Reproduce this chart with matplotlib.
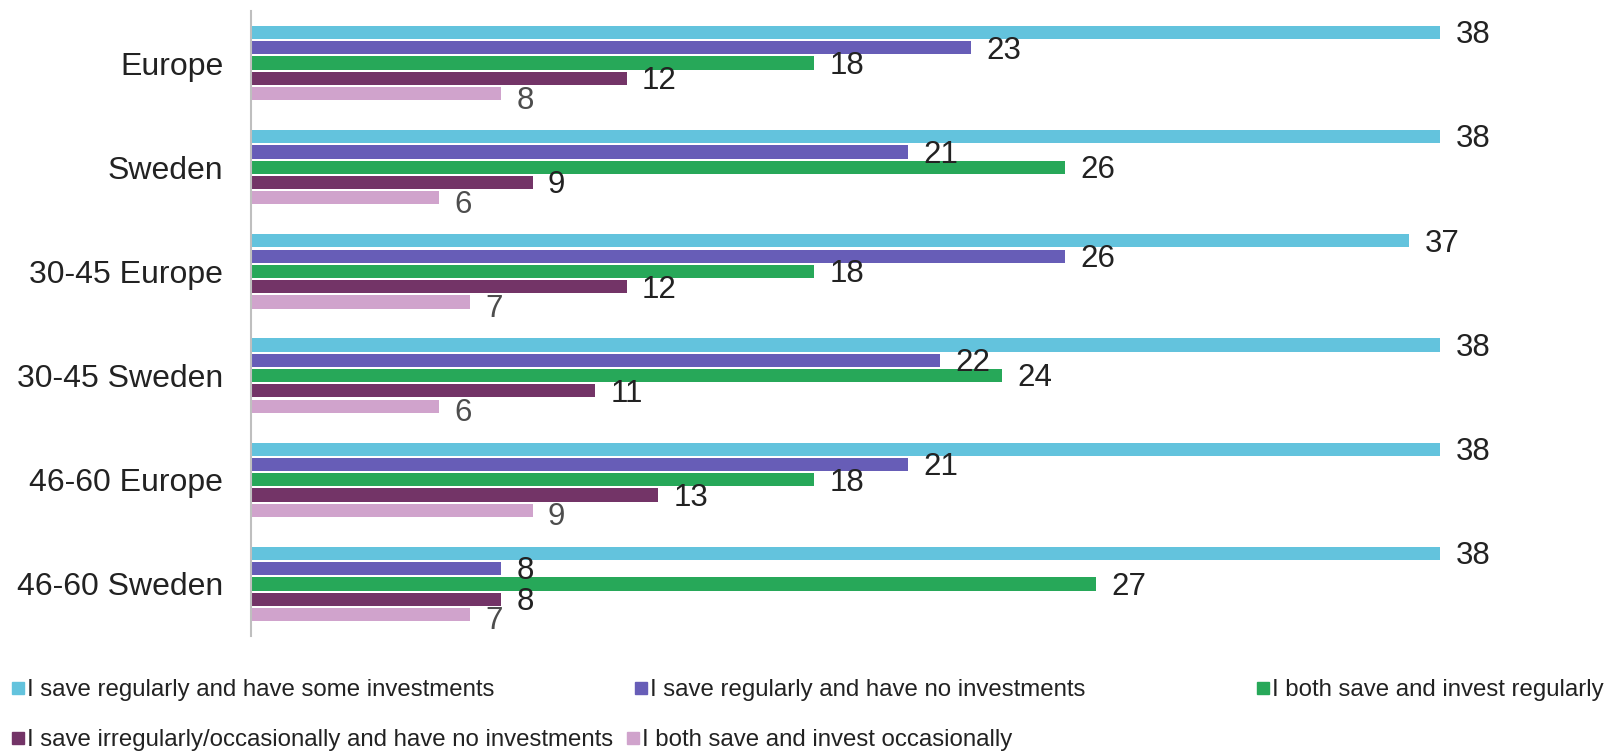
import matplotlib
matplotlib.use("Agg")
import matplotlib.pyplot as plt
from matplotlib.patches import Rectangle
import numpy as np

plt.rcParams['font.family'] = ['Liberation Sans', 'DejaVu Sans']

categories = ["Europe", "Sweden", "30-45 Europe", "30-45 Sweden", "46-60 Europe", "46-60 Sweden"]
series_names = [
    "I save regularly and have some investments",
    "I save regularly and have no investments",
    "I both save and invest regularly",
    "I save irregularly/occasionally and have no investments",
    "I both save and invest occasionally",
]
save_some_invest = [38, 38, 37, 38, 38, 38]
save_no_invest = [23, 21, 26, 22, 21, 8]
save_invest_regular = [18, 26, 18, 24, 18, 27]
irregular_no_invest = [12, 9, 12, 11, 13, 8]
save_invest_occasional = [8, 6, 7, 6, 9, 7]
series_values = [save_some_invest, save_no_invest, save_invest_regular,
                 irregular_no_invest, save_invest_occasional]

colors = ["#63C3DD", "#675DB7", "#27A859", "#733467", "#D0A3CC"]
label_colors = ["#222222", "#222222", "#222222", "#222222", "#4d4d4d"]

fig = plt.figure(figsize=(16.05, 7.52), dpi=100)
ax = fig.add_axes([251 / 1605, 1 - 636 / 752, (1503 - 251) / 1605, (636 - 11) / 752])

n_series = len(series_values)
slot = 0.147
bar_h = slot * 0.86
y = np.arange(len(categories))

for i, (vals, col, lcol) in enumerate(zip(series_values, colors, label_colors)):
    pos = y + (i - (n_series - 1) / 2) * slot
    ax.barh(pos, vals, height=bar_h, color=col, edgecolor='none')
    dy = -5 if i == n_series - 1 else -2
    for p, v in zip(pos, vals):
        ax.annotate(str(v), xy=(v, p), xytext=(11, dy), textcoords='offset points',
                    ha='left', va='center', fontsize=22.5, color=lcol)

ax.set_xlim(0, 40)
ax.set_ylim(len(categories) - 0.5, -0.5)
ax.set_yticks(y)
ax.set_yticklabels(categories, fontsize=23, color='#222222')
ax.tick_params(axis='y', length=0, pad=20)
ax.set_xticks([])
for side in ['top', 'right', 'bottom']:
    ax.spines[side].set_visible(False)
ax.spines['left'].set_color('#BFBFBF')
ax.spines['left'].set_linewidth(1.5)

# legend laid out in two rows
legend_slots = [(12, 688), (635, 688), (1257, 688), (12, 738), (627, 738)]
sq = 12
for (px, py), name, col in zip(legend_slots, series_names, colors):
    fig.patches.append(Rectangle((px / 1605, 1 - (py + sq / 2) / 752), sq / 1605, sq / 752,
                                 transform=fig.transFigure, color=col, figure=fig))
    fig.text((px + sq + 3) / 1605, 1 - (py + 2) / 752, name, fontsize=17.3, color='#222222',
             ha='left', va='center')

fig.savefig("out.png", dpi=100)
